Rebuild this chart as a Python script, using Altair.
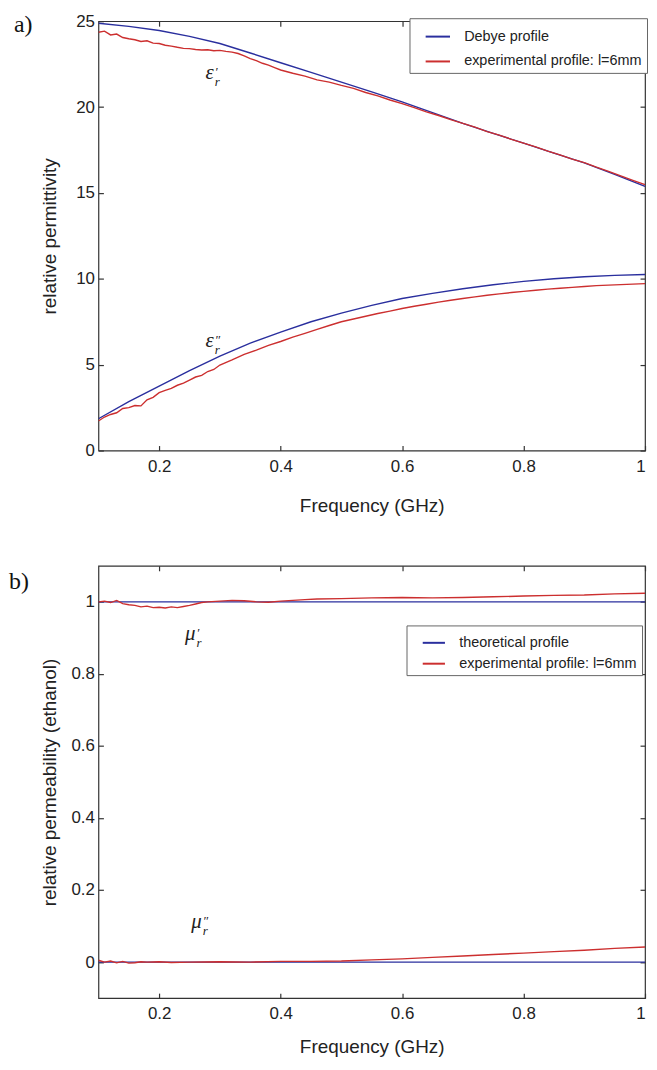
import altair as alt
import pandas as pd

# ---------------- data ----------------
freq_debye = [0.10, 0.15, 0.20, 0.25, 0.30, 0.35, 0.40, 0.45, 0.50, 0.55,
              0.60, 0.65, 0.70, 0.75, 0.80, 0.85, 0.90, 0.95, 1.00]
eps1_debye = [24.88, 24.70, 24.46, 24.12, 23.70, 23.15, 22.58, 22.02, 21.45, 20.88,
              20.30, 19.68, 19.05, 18.47, 17.90, 17.32, 16.75, 16.08, 15.38]
eps2_debye = [1.85, 2.85, 3.75, 4.65, 5.50, 6.25, 6.90, 7.50, 8.00, 8.45,
              8.85, 9.15, 9.42, 9.65, 9.85, 10.00, 10.12, 10.20, 10.25]

freq_eps1_exp = [0.10, 0.11, 0.12, 0.13, 0.14, 0.15, 0.16, 0.17, 0.18, 0.19,
                 0.20, 0.21, 0.22, 0.23, 0.24, 0.25, 0.26, 0.27, 0.28, 0.29,
                 0.30, 0.31, 0.32, 0.33, 0.34, 0.35, 0.36, 0.37, 0.38, 0.39,
                 0.40, 0.42, 0.44, 0.46, 0.48, 0.50, 0.52, 0.54, 0.56, 0.58,
                 0.60, 0.62, 0.64, 0.66, 0.68, 0.70, 0.72, 0.74, 0.76, 0.78,
                 0.80, 0.82, 0.84, 0.86, 0.88, 0.90, 0.92, 0.94, 0.96, 0.98, 1.00]
eps1_exp = [24.36, 24.42, 24.20, 24.25, 24.05, 23.98, 23.92, 23.82, 23.86, 23.72,
            23.70, 23.60, 23.55, 23.48, 23.42, 23.40, 23.35, 23.32, 23.34, 23.28,
            23.30, 23.24, 23.20, 23.12, 22.98, 22.82, 22.70, 22.55, 22.44, 22.30,
            22.16, 21.97, 21.80, 21.58, 21.45, 21.26, 21.09, 20.85, 20.65, 20.41,
            20.20, 19.97, 19.72, 19.51, 19.27, 19.05, 18.83, 18.57, 18.37, 18.12,
            17.90, 17.68, 17.43, 17.22, 16.97, 16.76, 16.50, 16.26, 15.99, 15.73, 15.48]

freq_eps2_exp = [0.10, 0.11, 0.12, 0.13, 0.14, 0.15, 0.16, 0.17, 0.18, 0.19,
                 0.20, 0.21, 0.22, 0.23, 0.24, 0.25, 0.26, 0.27, 0.28, 0.29,
                 0.30, 0.32, 0.34, 0.36, 0.38, 0.40, 0.42, 0.44, 0.46, 0.48,
                 0.50, 0.52, 0.54, 0.56, 0.58, 0.60, 0.62, 0.64, 0.66, 0.68,
                 0.70, 0.72, 0.74, 0.76, 0.78, 0.80, 0.82, 0.84, 0.86, 0.88,
                 0.90, 0.92, 0.94, 0.96, 0.98, 1.00]
eps2_exp = [1.72, 1.95, 2.10, 2.20, 2.45, 2.50, 2.62, 2.60, 2.95, 3.10,
            3.37, 3.50, 3.62, 3.80, 3.92, 4.10, 4.28, 4.38, 4.60, 4.72,
            4.98, 5.28, 5.60, 5.85, 6.12, 6.35, 6.60, 6.82, 7.05, 7.28,
            7.50, 7.66, 7.82, 7.98, 8.12, 8.27, 8.40, 8.52, 8.64, 8.75,
            8.85, 8.95, 9.04, 9.12, 9.20, 9.27, 9.33, 9.40, 9.45, 9.50,
            9.55, 9.60, 9.63, 9.66, 9.69, 9.72]

freq_theory = [0.10, 1.00]
mu1_theory = [1.0, 1.0]
mu2_theory = [0.0, 0.0]

freq_mu1_exp = [0.10, 0.11, 0.12, 0.13, 0.14, 0.15, 0.16, 0.17, 0.18, 0.19,
                0.20, 0.21, 0.22, 0.23, 0.24, 0.25, 0.26, 0.27, 0.28, 0.30,
                0.32, 0.34, 0.36, 0.38, 0.40, 0.42, 0.44, 0.46, 0.50, 0.55,
                0.60, 0.65, 0.70, 0.75, 0.80, 0.85, 0.90, 0.95, 1.00]
mu1_exp = [1.000, 1.002, 0.998, 1.004, 0.995, 0.992, 0.990, 0.986, 0.988, 0.984,
           0.985, 0.983, 0.986, 0.984, 0.987, 0.990, 0.994, 0.998, 1.000, 1.002,
           1.004, 1.003, 1.000, 0.999, 1.002, 1.004, 1.006, 1.008, 1.009, 1.011,
           1.012, 1.011, 1.012, 1.014, 1.016, 1.018, 1.019, 1.022, 1.024]

freq_mu2_exp = [0.10, 0.11, 0.12, 0.13, 0.14, 0.15, 0.16, 0.17, 0.18, 0.20,
                0.22, 0.25, 0.30, 0.35, 0.40, 0.45, 0.50, 0.55, 0.60, 0.65,
                0.70, 0.75, 0.80, 0.85, 0.90, 0.95, 1.00]
mu2_exp = [0.005, 0.000, 0.003, -0.002, 0.002, -0.003, -0.002, 0.001, 0.000, 0.001,
           -0.001, 0.000, 0.001, 0.000, 0.002, 0.002, 0.003, 0.006, 0.009, 0.013,
           0.017, 0.021, 0.025, 0.029, 0.033, 0.038, 0.042]

x_ticks = [0.2, 0.4, 0.6, 0.8, 1.0]
eps_ticks = [0, 5, 10, 15, 20, 25]
mu_ticks = [0, 0.2, 0.4, 0.6, 0.8, 1.0]

legend_a = ["Debye profile", "experimental profile: l=6mm"]
legend_b = ["theoretical profile", "experimental profile: l=6mm"]

# annotation labels: position (f, v), base letter and primes/subscript
note_a_f = [0.29, 0.29]
note_a_v = [22.0, 6.4]
note_a_base = ["ε", "ε"]
note_a_script = ["′\nr", "″\nr"]

note_b_f = [0.26, 0.27]
note_b_v = [0.91, 0.11]
note_b_base = ["μ", "μ"]
note_b_script = ["′\nr", "″\nr"]

BLUE = "#2a2f9e"
RED = "#cc2f2f"


def frame(parts):
    rows = []
    for freqs, vals, series, comp in parts:
        for f, v in zip(freqs, vals):
            rows.append({"f": f, "v": v, "series": series, "comp": comp})
    return pd.DataFrame(rows)


df_a = frame([
    (freq_debye, eps1_debye, legend_a[0], "d1"),
    (freq_debye, eps2_debye, legend_a[0], "d2"),
    (freq_eps1_exp, eps1_exp, legend_a[1], "e1"),
    (freq_eps2_exp, eps2_exp, legend_a[1], "e2"),
])
df_b = frame([
    (freq_theory, mu1_theory, legend_b[0], "t1"),
    (freq_theory, mu2_theory, legend_b[0], "t2"),
    (freq_mu1_exp, mu1_exp, legend_b[1], "m1"),
    (freq_mu2_exp, mu2_exp, legend_b[1], "m2"),
])
notes_a = pd.DataFrame({"f": note_a_f, "v": note_a_v, "base": note_a_base, "script": note_a_script})
notes_b = pd.DataFrame({"f": note_b_f, "v": note_b_v, "base": note_b_base, "script": note_b_script})

W = 550


def panel(df, notes, names, ydom, yticks, ytitle, ytitlepad, xtitlepad, tag, tag_x, tag_y,
          leg_x, leg_y, leg_row, leg_sym, height):
    xs = alt.Scale(domain=[0.1, 1.0], nice=False, zero=False)
    ys = alt.Scale(domain=ydom, nice=False, zero=False)
    lines = alt.Chart(df).mark_line(strokeWidth=1.4, clip=True).encode(
        x=alt.X("f:Q", scale=xs, axis=alt.Axis(
            orient="bottom", values=x_ticks, format="~g", title="Frequency (GHz)",
            labelFlush=True, offset=-5, tickSize=5, labelPadding=8, titlePadding=xtitlepad,
            domain=False, minExtent=0)),
        y=alt.Y("v:Q", scale=ys, axis=alt.Axis(
            orient="left", values=yticks, format="~g", title=ytitle,
            offset=-5, tickSize=5, labelPadding=4, titlePadding=ytitlepad,
            domain=False, minExtent=0)),
        color=alt.Color("series:N", scale=alt.Scale(domain=names, range=[BLUE, RED]),
                        legend=alt.Legend(
                            title=None, orient="none", legendX=leg_x, legendY=leg_y,
                            symbolType="stroke", symbolSize=leg_sym, symbolStrokeWidth=2,
                            symbolOffset=10, labelOffset=13, padding=5,
                            rowPadding=leg_row, labelFontSize=14.5, labelLimit=400,
                            labelFont="Liberation Sans", labelColor="#222",
                            strokeColor="#666", fillColor="white", cornerRadius=0)),
        detail="comp:N",
    )
    base = alt.Chart(notes).mark_text(
        font="Liberation Serif", fontStyle="italic", fontSize=21,
        align="right", baseline="middle", color="#222").encode(
        x=alt.X("f:Q", scale=xs, axis=alt.Axis(
            orient="top", values=x_ticks, labels=False, title=None,
            offset=-5, tickSize=5, domain=False, minExtent=0, maxExtent=0)),
        y=alt.Y("v:Q", scale=ys, axis=alt.Axis(
            orient="right", values=yticks, labels=False, title=None,
            offset=-5, tickSize=5, domain=False, minExtent=0, maxExtent=0)),
        text="base:N",
    )
    script = alt.Chart(notes).mark_text(
        font="Liberation Serif", fontStyle="italic", fontSize=13,
        align="left", baseline="middle", lineBreak="\n", lineHeight=10,
        dx=1, dy=-1, color="#222").encode(
        x=alt.X("f:Q", scale=xs, axis=None),
        y=alt.Y("v:Q", scale=ys, axis=None),
        text="script:N",
    )
    label = alt.Chart(pd.DataFrame({"t": [tag]})).mark_text(
        font="Liberation Serif", fontSize=24, align="left", baseline="middle",
        color="#111").encode(
        x=alt.value(tag_x), y=alt.value(tag_y), text="t:N")
    return alt.layer(lines, base, script, label).resolve_axis(
        x="independent", y="independent").properties(width=W, height=height)


pa = panel(df_a, notes_a, legend_a, [0, 25], eps_ticks, "relative permittivity", 16, 22,
           "a)", -85, 4, 313, -3, 5, 600, 432)
pb = panel(df_b, notes_b, legend_b, [-0.1, 1.1], mu_ticks,
           "relative permeability (ethanol)", 12, 16,
           "b)", -90, 16, 310, 60, 2, 500, 435)

chart = alt.vconcat(pa, pb, spacing=116, bounds="flush", padding=0).resolve_scale(
    color="independent"
).resolve_legend(
    color="independent"
).configure(
    background="white", padding=0
).configure_view(
    stroke="#333", strokeWidth=1.2
).configure_axis(
    grid=False, labelFont="Liberation Sans", titleFont="Liberation Sans",
    labelFontSize=17, titleFontSize=19, titleFontWeight="normal",
    labelColor="#222", titleColor="#222", tickColor="#333", tickWidth=1.2
)

chart.save("out.html", embed_options={"renderer": "svg", "actions": False})
